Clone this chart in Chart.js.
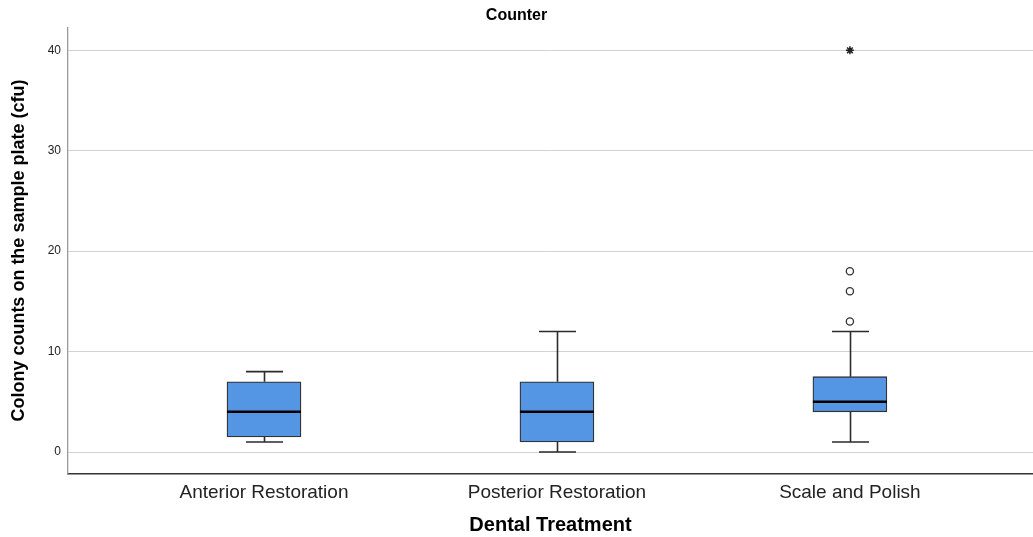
<!DOCTYPE html>
<html>
<head>
<meta charset="utf-8">
<script src="https://cdn.jsdelivr.net/npm/chart.js@4/dist/chart.umd.min.js"></script>
<style>
html,body{margin:0;padding:0;background:#fff;}
canvas{display:block;}
</style>
</head>
<body>
<canvas id="c" width="1033" height="537"></canvas>
<script>
const categories = ["Anterior Restoration", "Posterior Restoration", "Scale and Polish"];
const whiskerLow = [1, 0, 1];
const quartile1 = [1.5, 1, 4];
const medians = [4, 4, 5];
const quartile3 = [7, 7, 7.5];
const whiskerHigh = [8, 12, 12];
const outliers = [{x: 2, y: 13}, {x: 2, y: 16}, {x: 2, y: 18}];
const extremes = [{x: 2, y: 40}];
const yTicks = [0, 10, 20, 30, 40];

const FONT = "'Liberation Sans', Arial, sans-serif";

const boxPlugin = {
  id: 'boxParts',
  beforeDatasetsDraw(chart) {
    const {ctx, scales: {x, y}} = chart;
    ctx.save();
    ctx.strokeStyle = '#2b2b2b';
    ctx.lineWidth = 1.6;
    const capHalf = 18.5;
    categories.forEach((c, i) => {
      const px = Math.round(x.getPixelForValue(i)) + 0.5;
      const lo = y.getPixelForValue(whiskerLow[i]);
      const q1 = y.getPixelForValue(quartile1[i]);
      const q3 = y.getPixelForValue(quartile3[i]);
      const hi = y.getPixelForValue(whiskerHigh[i]);
      ctx.beginPath();
      ctx.moveTo(px, q1); ctx.lineTo(px, lo);
      ctx.moveTo(px - capHalf, lo); ctx.lineTo(px + capHalf, lo);
      ctx.moveTo(px, q3); ctx.lineTo(px, hi);
      ctx.moveTo(px - capHalf, hi); ctx.lineTo(px + capHalf, hi);
      ctx.stroke();
    });
    ctx.restore();
  },
  afterDatasetsDraw(chart) {
    const {ctx, scales: {x, y}} = chart;
    ctx.save();
    ctx.strokeStyle = '#000';
    ctx.lineWidth = 2.5;
    const half = 37;
    categories.forEach((c, i) => {
      const px = x.getPixelForValue(i);
      const m = y.getPixelForValue(medians[i]);
      ctx.beginPath();
      ctx.moveTo(px - half, m); ctx.lineTo(px + half, m);
      ctx.stroke();
    });
    ctx.restore();
  }
};

new Chart(document.getElementById('c'), {
  type: 'bar',
  data: {
    datasets: [
      {
        type: 'bar',
        data: categories.map((c, i) => ({x: i, y: [quartile1[i], quartile3[i]]})),
        backgroundColor: '#5496e4',
        borderColor: '#333333',
        borderWidth: 1.3,
        borderSkipped: false,
        barThickness: 74,
        order: 2
      },
      {
        type: 'scatter',
        data: outliers,
        pointStyle: 'circle',
        pointRadius: 3.6,
        pointBackgroundColor: '#ffffff',
        pointBorderColor: '#333333',
        pointBorderWidth: 1.3,
        order: 1
      },
      {
        type: 'scatter',
        data: extremes,
        pointStyle: 'star',
        pointRadius: 4,
        pointBorderColor: '#222222',
        pointBorderWidth: 1.5,
        order: 1
      }
    ]
  },
  options: {
    responsive: false,
    animation: false,
    devicePixelRatio: 1,
    layout: {padding: 0, autoPadding: false},
    plugins: {
      legend: {display: false},
      tooltip: {enabled: false},
      title: {
        display: true,
        text: 'Counter',
        color: '#000',
        font: {family: FONT, size: 16, weight: 'bold', lineHeight: 1.2},
        padding: {top: 6, bottom: 2}
      }
    },
    scales: {
      x: {
        type: 'linear',
        offset: false,
        bounds: 'ticks',
        min: -0.669,
        max: 2.625,
        afterBuildTicks(scale) { scale.ticks = categories.map((c, i) => ({value: i})); },
        afterFit(scale) { scale.height = 63; scale.paddingLeft = 0; scale.paddingRight = 0; },
        grid: {display: false, drawTicks: false},
        border: {color: '#333333', width: 1.5},
        ticks: {
          callback: (v) => categories[v],
          color: '#222',
          font: {family: FONT, size: 19},
          padding: 7.5,
          maxRotation: 0,
          autoSkip: false
        },
        title: {
          display: true,
          text: 'Dental Treatment',
          color: '#000',
          font: {family: FONT, size: 20, weight: 'bold', lineHeight: 1.2},
          padding: {top: 0, bottom: 0}
        }
      },
      y: {
        min: -2.19,
        max: 42.3,
        afterBuildTicks(scale) { scale.ticks = yTicks.map(v => ({value: v})); },
        afterFit(scale) { scale.width = 68; },
        grid: {color: '#d2d2d2', lineWidth: 1, drawTicks: false},
        border: {color: '#9a9a9a', width: 1.3},
        ticks: {
          color: '#222',
          font: {family: FONT, size: 12},
          padding: 7
        },
        title: {
          display: true,
          text: 'Colony counts on the sample plate (cfu)',
          color: '#000',
          font: {family: FONT, size: 18, weight: 'bold', lineHeight: 1.2},
          padding: {top: 8, bottom: 0}
        }
      }
    }
  },
  plugins: [boxPlugin]
});
</script>
</body>
</html>
